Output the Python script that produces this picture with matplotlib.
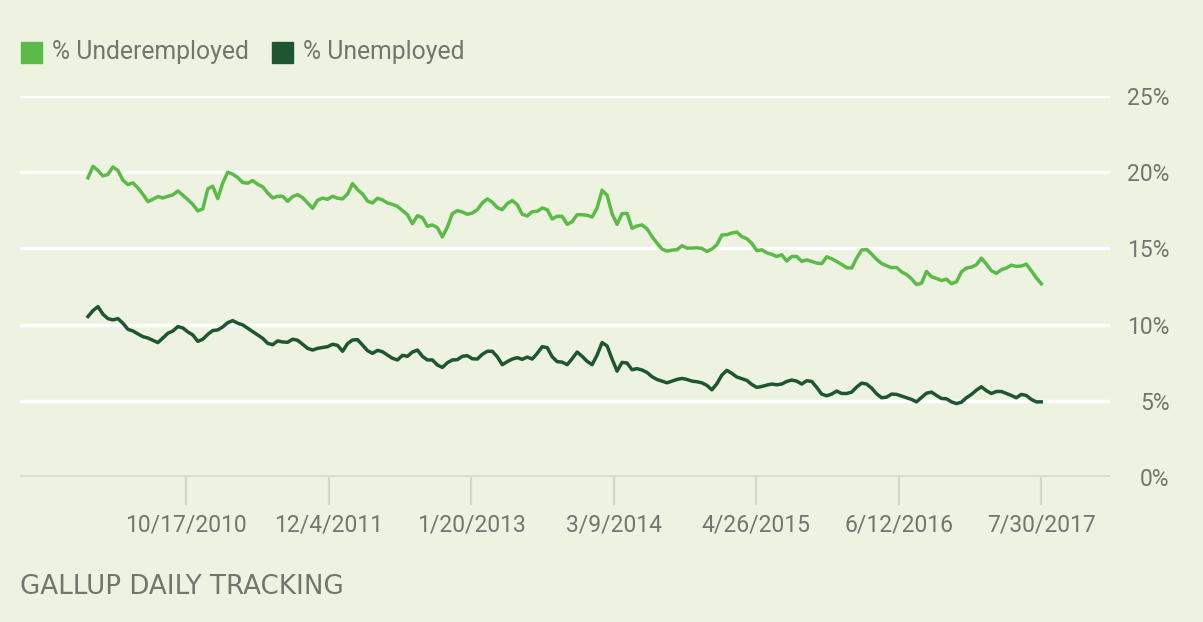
import matplotlib
matplotlib.use('Agg')
import matplotlib.pyplot as plt
from matplotlib.patches import Rectangle
import pandas as pd

# ---------------- data ----------------
start_date = '2010-01-06'
end_date = '2017-07-30'

underemployed = [
    19.63, 20.39, 20.11, 19.76, 19.85, 20.35, 20.11, 19.47, 19.19, 19.30,
    18.97, 18.55, 18.07, 18.22, 18.40, 18.31, 18.42, 18.51, 18.77, 18.49,
    18.20, 17.89, 17.46, 17.59, 18.90, 19.08, 18.27, 19.30, 20.00, 19.87,
    19.65, 19.32, 19.28, 19.45, 19.21, 19.04, 18.64, 18.31, 18.42, 18.42,
    18.09, 18.40, 18.53, 18.33, 17.98, 17.63, 18.16, 18.30, 18.22, 18.42,
    18.29, 18.25, 18.57, 19.25, 18.86, 18.57, 18.11, 17.98, 18.29, 18.18,
    17.98, 17.89, 17.76, 17.48, 17.21, 16.62, 17.15, 17.02, 16.45, 16.54,
    16.36, 15.75, 16.40, 17.28, 17.48, 17.39, 17.24, 17.32, 17.54, 17.98,
    18.25, 18.03, 17.68, 17.54, 17.94, 18.14, 17.87, 17.24, 17.13, 17.41,
    17.43, 17.65, 17.54, 16.93, 17.11, 17.10, 16.58, 16.75, 17.21, 17.21,
    17.17, 17.06, 17.65, 18.82, 18.49, 17.28, 16.58, 17.28, 17.30, 16.32,
    16.47, 16.54, 16.29, 15.77, 15.35, 14.96, 14.82, 14.89, 14.91, 15.18,
    15.02, 15.02, 15.04, 15.00, 14.80, 14.96, 15.24, 15.88, 15.90, 16.01,
    16.07, 15.77, 15.64, 15.33, 14.85, 14.91, 14.71, 14.61, 14.47, 14.58,
    14.17, 14.47, 14.47, 14.15, 14.25, 14.14, 14.04, 14.00, 14.45, 14.32,
    14.14, 13.95, 13.73, 13.71, 14.36, 14.89, 14.93, 14.63, 14.28, 14.01,
    13.86, 13.73, 13.75, 13.46, 13.29, 13.00, 12.63, 12.72, 13.49, 13.14,
    13.03, 12.89, 12.98, 12.68, 12.81, 13.46, 13.71, 13.77, 13.93, 14.36,
    13.97, 13.53, 13.36, 13.60, 13.71, 13.90, 13.82, 13.84, 13.97, 13.53,
    13.07, 12.68,
]

unemployed = [
    10.53, 10.92, 11.18, 10.68, 10.39, 10.31, 10.39, 10.09, 9.69, 9.58,
    9.39, 9.21, 9.12, 8.97, 8.82, 9.12, 9.43, 9.58, 9.87, 9.78,
    9.52, 9.32, 8.90, 9.04, 9.36, 9.61, 9.65, 9.85, 10.13, 10.26,
    10.09, 9.98, 9.76, 9.54, 9.32, 9.10, 8.77, 8.68, 8.93, 8.86,
    8.84, 9.04, 8.97, 8.71, 8.44, 8.33, 8.44, 8.50, 8.55, 8.71,
    8.64, 8.25, 8.75, 8.99, 9.01, 8.66, 8.29, 8.11, 8.31, 8.22,
    8.00, 7.79, 7.68, 7.98, 7.92, 8.20, 8.33, 7.92, 7.68, 7.68,
    7.35, 7.19, 7.50, 7.68, 7.70, 7.92, 7.96, 7.76, 7.74, 8.05,
    8.25, 8.25, 7.89, 7.37, 7.57, 7.74, 7.83, 7.72, 7.87, 7.74,
    8.11, 8.55, 8.49, 7.89, 7.57, 7.54, 7.37, 7.76, 8.20, 7.92,
    7.59, 7.37, 8.00, 8.82, 8.60, 7.74, 6.95, 7.52, 7.48, 7.04,
    7.11, 7.02, 6.86, 6.58, 6.40, 6.29, 6.18, 6.29, 6.40, 6.47,
    6.40, 6.29, 6.25, 6.18, 6.01, 5.72, 6.12, 6.69, 7.00, 6.80,
    6.56, 6.45, 6.34, 6.07, 5.88, 5.94, 6.03, 6.10, 6.05, 6.10,
    6.27, 6.36, 6.29, 6.10, 6.32, 6.27, 5.88, 5.44, 5.33, 5.44,
    5.64, 5.48, 5.48, 5.57, 5.90, 6.16, 6.10, 5.83, 5.46, 5.20,
    5.24, 5.44, 5.42, 5.31, 5.20, 5.09, 4.93, 5.22, 5.50, 5.57,
    5.35, 5.15, 5.13, 4.93, 4.82, 4.91, 5.20, 5.42, 5.70, 5.92,
    5.66, 5.48, 5.61, 5.61, 5.48, 5.35, 5.20, 5.42, 5.35, 5.09,
    4.93, 4.93,
]

tick_labels = ['10/17/2010', '12/4/2011', '1/20/2013', '3/9/2014',
               '4/26/2015', '6/12/2016', '7/30/2017']
y_ticks = [0, 5, 10, 15, 20, 25]
series_labels = ['% Underemployed', '% Unemployed']
source_note = 'GALLUP DAILY TRACKING'

# ---------------- style ----------------
BG = '#edf3e0'
C_UNDER = '#5cbb48'
C_UNEMP = '#1e5631'
TXT = '#72766e'
FONT = 'Roboto'
W, H = 1203, 622

plt.rcParams['font.family'] = [FONT, 'DejaVu Sans']

fig = plt.figure(figsize=(W / 100, H / 100), dpi=100, facecolor=BG)
ax = fig.add_axes([20 / W, 1 - 477 / H, 1090 / W, (477 - 96) / H])
ax.set_facecolor(BG)

dates = pd.date_range(start_date, end_date, periods=len(underemployed))

for y in y_ticks[1:]:
    ax.axhline(y, color='white', lw=2.5, zorder=1)
ax.axhline(0, color='#d6dacf', lw=2.6, zorder=1)

ax.plot(dates, underemployed, color=C_UNDER, lw=2.5, zorder=3,
        solid_joinstyle='round')
ax.plot(dates, unemployed, color=C_UNEMP, lw=2.5, zorder=3,
        solid_joinstyle='round')

ax.set_xlim(pd.Timestamp('2009-06-23'), pd.Timestamp('2018-02-14'))
ax.set_ylim(0, 25)

for s in ax.spines.values():
    s.set_visible(False)

ax.set_xticks(pd.to_datetime(tick_labels, format='%m/%d/%Y'))
ax.set_xticklabels(tick_labels)
ax.tick_params(axis='x', length=20, width=1.6, color='#d3d7cc', pad=6,
               labelsize=16.5, labelcolor=TXT)

ax.yaxis.tick_right()
ax.set_yticks(y_ticks)
ax.set_yticklabels([f'{v}%' for v in y_ticks])
ax.tick_params(axis='y', length=0, pad=43, labelsize=16.5, labelcolor=TXT)
for lab in ax.get_yticklabels():
    lab.set_horizontalalignment('right')

# legend (squares + labels)
sq = 21
leg_y = 52
fig.patches.append(Rectangle((21 / W, 1 - (leg_y + sq / 2) / H), sq / W, sq / H,
                             transform=fig.transFigure, color=C_UNDER))
fig.text(52 / W, 1 - leg_y / H, series_labels[0], color=TXT, fontsize=17.8,
         va='center', ha='left')
fig.patches.append(Rectangle((272 / W, 1 - (leg_y + sq / 2) / H), sq / W, sq / H,
                             transform=fig.transFigure, color=C_UNEMP))
fig.text(303 / W, 1 - leg_y / H, series_labels[1], color=TXT, fontsize=17.8,
         va='center', ha='left')

fig.text(20 / W, 1 - 587 / H, source_note, color=TXT, fontsize=18.8,
         va='center', ha='left', family=['DejaVu Sans'])

fig.savefig('out.png', dpi=100, facecolor=BG)
